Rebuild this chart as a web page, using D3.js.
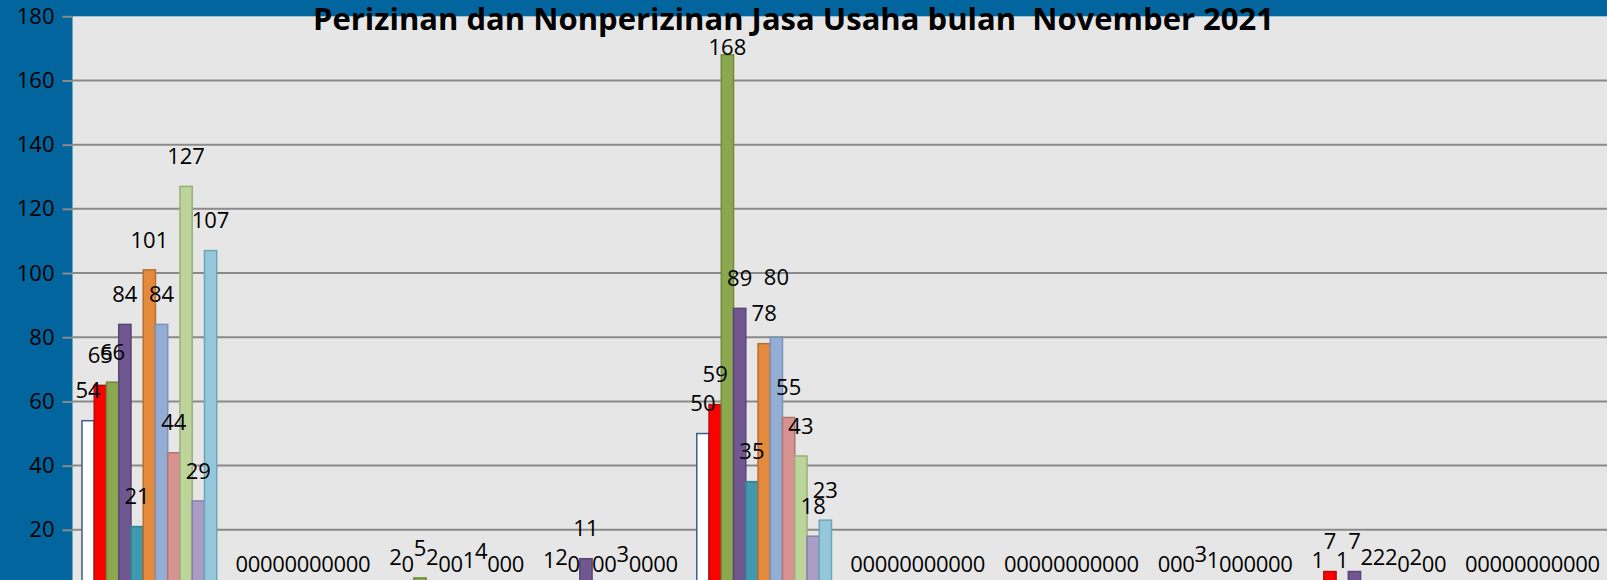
<!DOCTYPE html>
<html>
<head>
<meta charset="utf-8">
<script src="https://cdn.jsdelivr.net/npm/d3@7"></script>
<style>
    body { margin: 0; background: #03659d; overflow: hidden; }
    svg { display: block; font-family: "Open Sans", "Noto Sans", sans-serif; }
</style>
</head>
<body>
<div id="chart"></div>
<script>
// categories (x labels are cut off in the picture)
const categories = ['1', '2', '3', '4', '5', '6', '7', '8', '9', '10'];

// one array per series, value for each category
const seriesNames = ['S1', 'S2', 'S3', 'S4', 'S5', 'S6', 'S7', 'S8', 'S9', 'S10', 'S11'];
const s1  = [54,  0, 2,  1,  50, 0, 0, 0, 1, 0];
const s2  = [65,  0, 0,  2,  59, 0, 0, 0, 7, 0];
const s3  = [66,  0, 5,  0, 168, 0, 0, 0, 1, 0];
const s4  = [84,  0, 2, 11,  89, 0, 0, 3, 7, 0];
const s5  = [21,  0, 0,  0,  35, 0, 0, 1, 2, 0];
const s6  = [101, 0, 0,  0,  78, 0, 0, 0, 2, 0];
const s7  = [84,  0, 1,  3,  80, 0, 0, 0, 2, 0];
const s8  = [44,  0, 4,  0,  55, 0, 0, 0, 0, 0];
const s9  = [127, 0, 0,  0,  43, 0, 0, 0, 2, 0];
const s10 = [29,  0, 0,  0,  18, 0, 0, 0, 0, 0];
const s11 = [107, 0, 0,  0,  23, 0, 0, 0, 0, 0];

const yTicks = [0, 20, 40, 60, 80, 100, 120, 140, 160, 180];

const chartTitle = 'Perizinan dan Nonperizinan Jasa Usaha bulan  November 2021';

function init(){

    const series = [s1, s2, s3, s4, s5, s6, s7, s8, s9, s10, s11];

    const width = 1607;
    const height = 580;

    // plot area (bottom goes past the picture)
    const plotLeft = 72.5;
    const plotRight = 1609.5;
    const plotTop = 16.3;
    const zeroY = 594;

    const fills = ['#ffffff', '#ff0000', '#8ba84f', '#70578f', '#4099ae', '#e38a3d',
                   '#94add4', '#d69391', '#bdd49a', '#a99dc6', '#94c7da'];
    const strokes = ['#3d5d8a', '#b01010', '#6e8a3a', '#5a4575', '#357f92', '#b96e2e',
                     '#7a93b9', '#b07573', '#9ab07a', '#8a7fa6', '#6fa4b8'];

    // the one label that was dragged up by hand in the original ("80", 5th group, 7th series)
    const labelLift = { '4-6': 30 };

    const svg = d3.select('#chart')
        .append('svg')
        .attr('width', width)
        .attr('height', height);

    // light plot background
    svg.append('rect')
        .attr('x', plotLeft)
        .attr('y', plotTop)
        .attr('width', width - plotLeft)
        .attr('height', height - plotTop)
        .attr('fill', '#e6e6e6');

    const x0 = d3.scaleBand()
        .domain(categories)
        .range([plotLeft, plotRight])
        .padding(0);

    const x1 = d3.scaleBand()
        .domain(d3.range(series.length))
        .range([0, x0.bandwidth()])
        .paddingInner(0)
        .paddingOuter(0.775);

    const y = d3.scaleLinear()
        .domain([0, 180])
        .range([zeroY, plotTop]);

    // gridlines
    svg.append('g')
        .selectAll('line')
        .data(yTicks.filter(t => t > 0 && t < 180))
        .enter().append('line')
        .attr('x1', plotLeft)
        .attr('x2', width)
        .attr('y1', d => y(d))
        .attr('y2', d => y(d))
        .attr('stroke', '#8a8a8a')
        .attr('stroke-width', 2);

    // y axis with tick marks on the left
    const yAxis = svg.append('g')
        .attr('transform', `translate(${plotLeft},0)`)
        .call(d3.axisLeft(y).tickValues(yTicks).tickSize(10).tickPadding(8));

    yAxis.select('.domain').remove();
    yAxis.selectAll('.tick line')
        .attr('stroke', '#8a8a8a')
        .attr('stroke-width', 2);
    yAxis.selectAll('.tick text')
        .attr('fill', '#000')
        .style('font-size', '22px')
        .style('font-family', '"Open Sans", sans-serif');

    // bars
    const groups = svg.append('g')
        .selectAll('g')
        .data(categories)
        .enter().append('g')
        .attr('transform', d => `translate(${x0(d)},0)`);

    groups.selectAll('rect')
        .data((d, ci) => series.map((s, si) => ({ ci: ci, si: si, value: s[ci] })))
        .enter().append('rect')
        .attr('x', d => x1(d.si))
        .attr('y', d => y(d.value))
        .attr('width', x1.bandwidth())
        .attr('height', d => zeroY - y(d.value))
        .attr('fill', d => fills[d.si])
        .attr('stroke', d => strokes[d.si])
        .attr('stroke-width', 1.5);

    // value labels above bars
    groups.selectAll('text')
        .data((d, ci) => series.map((s, si) => ({ ci: ci, si: si, value: s[ci] })))
        .enter().append('text')
        .attr('x', d => x1(d.si) + x1.bandwidth() / 2)
        .attr('y', d => Math.max(y(d.value) - 30 - (labelLift[d.ci + '-' + d.si] || 0), 47))
        .attr('dy', '0.35em')
        .attr('text-anchor', 'middle')
        .style('font-size', '22px')
        .attr('fill', '#000')
        .text(d => d.value);

    // title, sits over the blue band
    svg.append('text')
        .attr('x', 793.5)
        .attr('y', 30)
        .attr('text-anchor', 'middle')
        .attr('textLength', 961)
        .attr('lengthAdjust', 'spacingAndGlyphs')
        .style('white-space', 'pre')
        .style('font-size', '30px')
        .style('font-weight', 'bold')
        .attr('fill', '#000')
        .text(chartTitle);
}

window.onload = init;
</script>
</body>
</html>
